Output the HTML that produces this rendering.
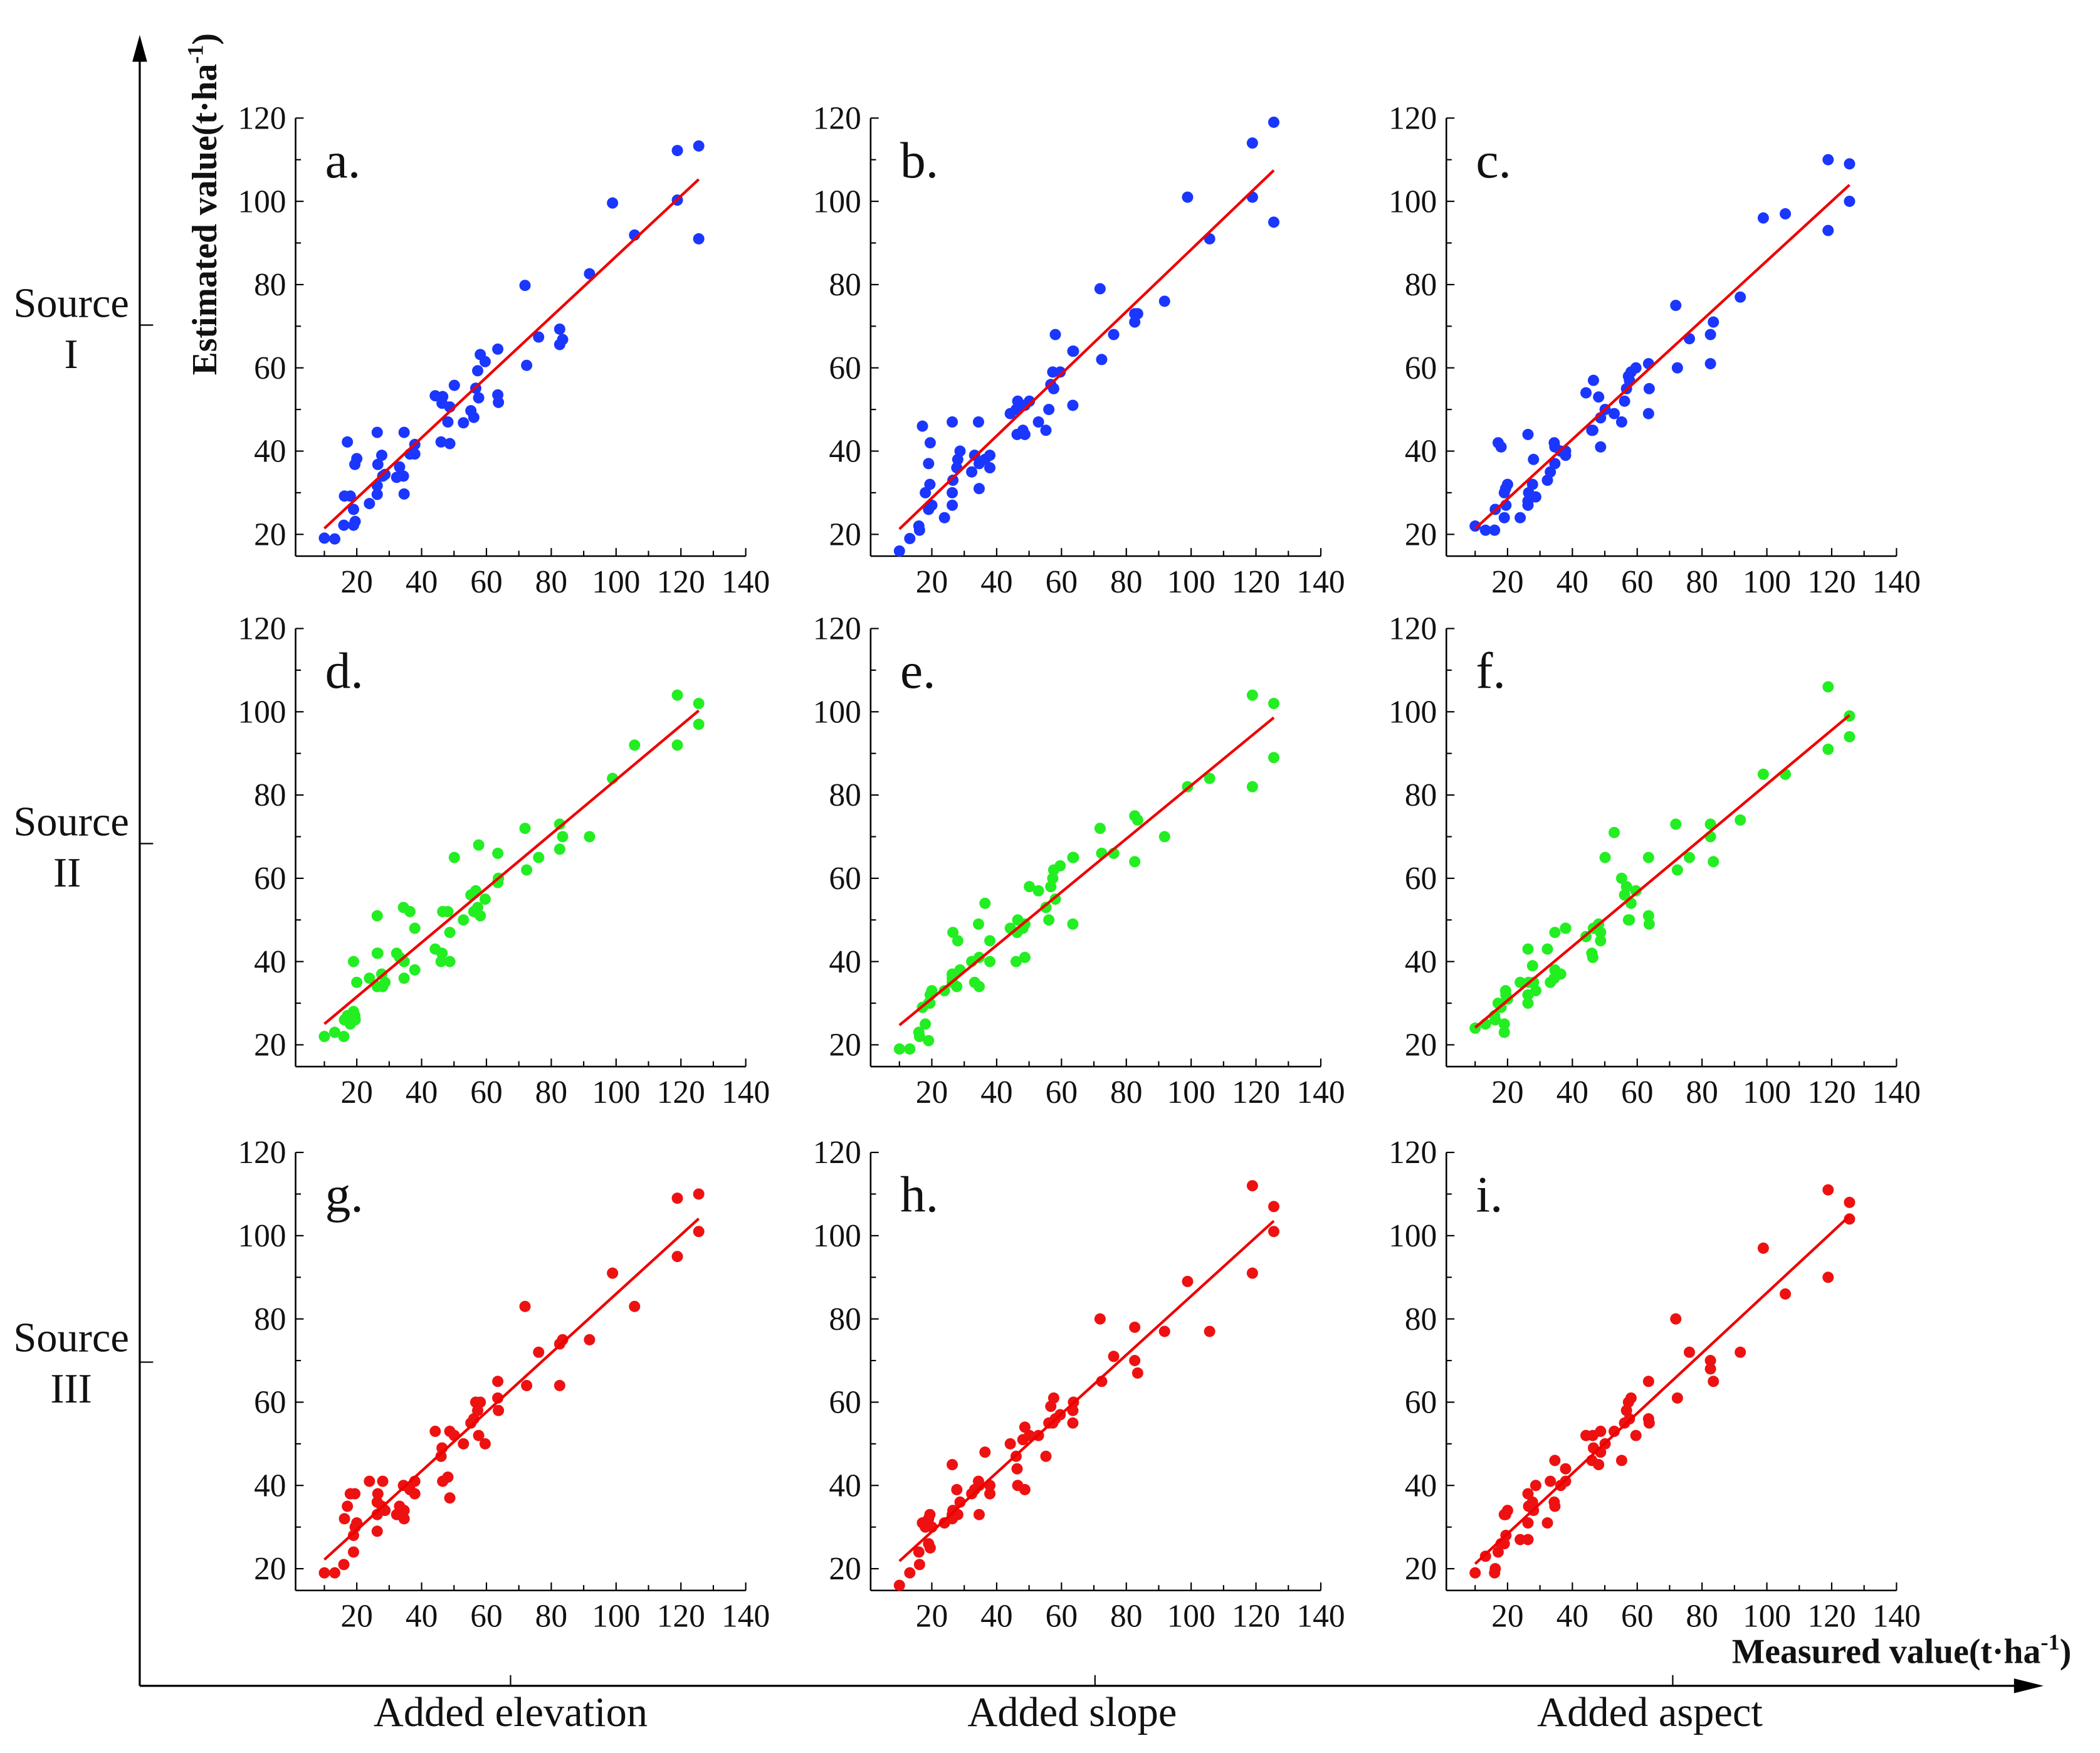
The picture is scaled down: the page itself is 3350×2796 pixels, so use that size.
<!DOCTYPE html>
<html><head><meta charset="utf-8"><style>
html,body{margin:0;padding:0;background:#fff;}
svg{display:block;}
text{font-family:"Liberation Serif",serif;fill:#111;}
</style></head><body>
<svg id="fig" xmlns="http://www.w3.org/2000/svg" width="3350" height="2796" viewBox="0 0 1563 1305" preserveAspectRatio="none">
<g>
<line x1="104" y1="1255" x2="104" y2="40" stroke="#000" stroke-width="1.5"/>
<polygon points="104,26 98.5,46 109.5,46" fill="#000"/>
<line x1="104" y1="1255" x2="1505" y2="1255" stroke="#000" stroke-width="1.5"/>
<polygon points="1521,1255 1499,1249.5 1499,1260.5" fill="#000"/>
<line x1="104" y1="242" x2="114" y2="242" stroke="#000"/>
<line x1="104" y1="628" x2="114" y2="628" stroke="#000"/>
<line x1="104" y1="1014" x2="114" y2="1014" stroke="#000"/>
<line x1="380" y1="1255" x2="380" y2="1247" stroke="#000"/>
<line x1="815" y1="1255" x2="815" y2="1247" stroke="#000"/>
<line x1="1245" y1="1255" x2="1245" y2="1247" stroke="#000"/>
</g>
<text x="53" y="236" font-size="31" text-anchor="middle">Source</text>
<text x="53" y="274" font-size="31" text-anchor="middle">I</text>
<text x="53" y="622" font-size="31" text-anchor="middle">Source</text>
<text x="50" y="660" font-size="31" text-anchor="middle">II</text>
<text x="53" y="1006" font-size="31" text-anchor="middle">Source</text>
<text x="53" y="1044" font-size="31" text-anchor="middle">III</text>
<text transform="translate(161,152) rotate(-90)" font-size="26" font-weight="bold" text-anchor="middle">Estimated value(t·ha<tspan dy="-10" font-size="17">-1</tspan><tspan dy="10">)</tspan></text>
<text x="1289" y="1238" font-size="26" font-weight="bold">Measured value(t·ha<tspan dy="-10" font-size="17">-1</tspan><tspan dy="10">)</tspan></text>
<text x="380" y="1285" font-size="31" text-anchor="middle">Added elevation</text>
<text x="798" y="1285" font-size="31" text-anchor="middle">Added slope</text>
<text x="1228" y="1285" font-size="31" text-anchor="middle">Added aspect</text>
</svg>
<script>
const measured=[10,13.2,16.2,18,17.1,16,19,19.5,19,19.4,20,23.9,26.3,26.5,27.7,26.3,26.3,28,28.7,32.3,33.2,34.4,34.6,34.6,36.4,37.9,37.9,44.2,46,46.5,46.3,48.1,48.7,48.7,50.1,52.9,55.2,56.1,56.7,57.6,57.3,58.1,59.6,63.5,63.5,63.7,71.9,72.4,76.1,82.6,82.6,83.5,91.8,98.9,105.7,118.9,118.9,125.5,125.5];
const estA=[19.1,18.9,29.2,29.2,42.2,22.2,22.2,23.1,26,36.8,38.2,27.4,44.5,36.8,39,29.6,31.7,34,34.4,33.7,36.2,34,44.5,29.7,39.3,41.6,39.3,53.3,42.2,53.1,51.5,47,41.8,50.6,55.8,46.8,49.7,48.1,55.1,52.8,59.3,63.2,61.5,64.5,53.5,51.7,79.8,60.6,67.4,69.3,65.6,66.8,82.6,99.6,91.9,112.2,100.3,113.3,91];
const estB=[16,19,21,30,46,22,37,42,26,32,27,24,47,33,36,27,30,38,40,35,39,47,31,37,38,36,39,49,50,52,44,45,51,44,52,47,45,50,56,55,59,68,59,64,51,64,79,62,68,73,71,73,76,101,91,114,101,119,95];
const estC=[22,21,26,41,42,21,24,27,30,31,32,24,44,30,32,28,27,38,29,33,35,42,37,41,40,40,39,54,45,57,45,53,48,41,50,49,47,52,55,57,58,59,60,61,49,55,75,60,67,68,61,71,77,96,97,93,110,109,100];
const estD=[22,23,26,25,27,22,28,26,40,27,35,36,51,42,37,34,42,34,35,42,41,53,36,40,52,38,48,43,40,52,42,52,40,47,65,50,56,52,57,68,53,51,55,66,59,60,72,62,65,73,67,70,70,84,92,104,92,102,97];
const estE=[19,19,22,25,29,23,30,32,21,30,33,33,35,47,34,37,36,45,38,40,35,49,41,34,54,45,40,48,40,50,47,48,41,49,58,57,53,50,58,62,60,55,63,65,49,65,72,66,66,75,64,74,70,82,84,104,82,102,89];
const estF=[24,25,26,29,30,27,23,32,25,33,31,35,43,35,39,30,32,35,33,43,35,36,38,47,37,48,48,46,42,48,41,49,45,47,65,71,60,56,58,50,50,54,57,65,51,49,73,62,65,73,70,64,74,85,85,106,91,99,94];
const estG=[19,19,32,38,35,21,28,30,24,38,31,41,36,38,35,29,33,41,34,33,35,40,32,34,39,41,38,53,47,41,49,42,53,37,52,50,55,56,60,52,58,60,50,65,61,58,83,64,72,74,64,75,75,91,83,109,95,110,101];
const estH=[16,19,21,30,31,24,26,25,32,33,30,31,45,34,39,33,32,33,36,38,39,41,40,33,48,40,38,50,47,40,44,51,39,54,52,52,47,55,59,61,55,56,57,58,55,60,80,65,71,78,70,67,77,89,77,112,91,107,101];
const estI=[19,23,20,26,24,19,33,28,26,33,34,27,38,35,36,27,31,34,40,31,41,36,46,35,40,44,41,52,46,49,52,45,48,53,50,53,46,55,58,56,60,61,52,65,56,55,80,61,72,70,68,65,72,97,86,90,111,104,108];
const panelLetters=["a.","b.","c.","d.","e.","f.","g.","h.","i."];
const xTicks=[20,40,60,80,100,120,140];
const yTicks=[20,40,60,80,100,120];

const series=[estA,estB,estC,estD,estE,estF,estG,estH,estI];
const rowColors=["#1a36ff","#22ee22","#ee1111"];
const NS="http://www.w3.org/2000/svg";
const svg=document.getElementById("fig");
function mk(tag,attrs,parent){const e=document.createElementNS(NS,tag);for(const k in attrs)e.setAttribute(k,attrs[k]);parent.appendChild(e);return e;}
const colOff=[0,428,856.5], rowOff=[0,380,770];
for(let p=0;p<9;p++){
  const r=Math.floor(p/3), c=p%3;
  const ox=colOff[c], oy=rowOff[r];
  const X=v=>ox+217.3+v*2.4125;
  const Y=v=>oy+397.8-(v-20)*3.099;
  const g=mk("g",{},svg);
  
  
  const axL=ox+220, axB=oy+414;
  const ya=mk("line",{x1:axL,y1:Y(120),x2:axL,y2:axB,stroke:"#000","stroke-width":1.2},g);
  
  
  const xa=mk("line",{x1:axL,y1:axB,x2:X(140),y2:axB,stroke:"#000","stroke-width":1.2},g);
  
  
  for(let v=20;v<=120;v+=10){const maj=v%20===0;mk("line",{x1:axL,y1:Y(v),x2:axL+(maj?6:4),y2:Y(v),stroke:"#000","stroke-width":1},g);}
  for(let v=10;v<=140;v+=10){const maj=v%20===0;mk("line",{x1:X(v),y1:axB,x2:X(v),y2:axB-(maj?6:4),stroke:"#000","stroke-width":1},g);}
  yTicks.forEach(v=>{const t=mk("text",{x:axL-7,y:Y(v)+8,"font-size":24,"text-anchor":"end"},g);t.textContent=v;
    
    });
  xTicks.forEach(v=>{const t=mk("text",{x:X(v),y:axB+27,"font-size":24,"text-anchor":"middle"},g);t.textContent=v;
    
    });
  const lt=mk("text",{x:ox+242,y:oy+132,"font-size":38},g);lt.textContent=panelLetters[p];
  
  
  const ys=series[p];
  ys.forEach((v,i)=>{const d=mk("circle",{cx:X(measured[i]),cy:Y(v),r:4.2,fill:rowColors[r]},g);
    
    });
  const n=ys.length;let sx=0,sy=0,sxx=0,sxy=0;
  for(let i=0;i<n;i++){sx+=measured[i];sy+=ys[i];sxx+=measured[i]*measured[i];sxy+=measured[i]*ys[i];}
  const b=(n*sxy-sx*sy)/(n*sxx-sx*sx), a=(sy-b*sx)/n;
  const x0=Math.min(...measured), x1=Math.max(...measured);
  const fl=mk("line",{x1:X(x0),y1:Y(a+b*x0),x2:X(x1),y2:Y(a+b*x1),stroke:"#ee0000","stroke-width":2},g);
  
  
}
</script>
</body></html>
